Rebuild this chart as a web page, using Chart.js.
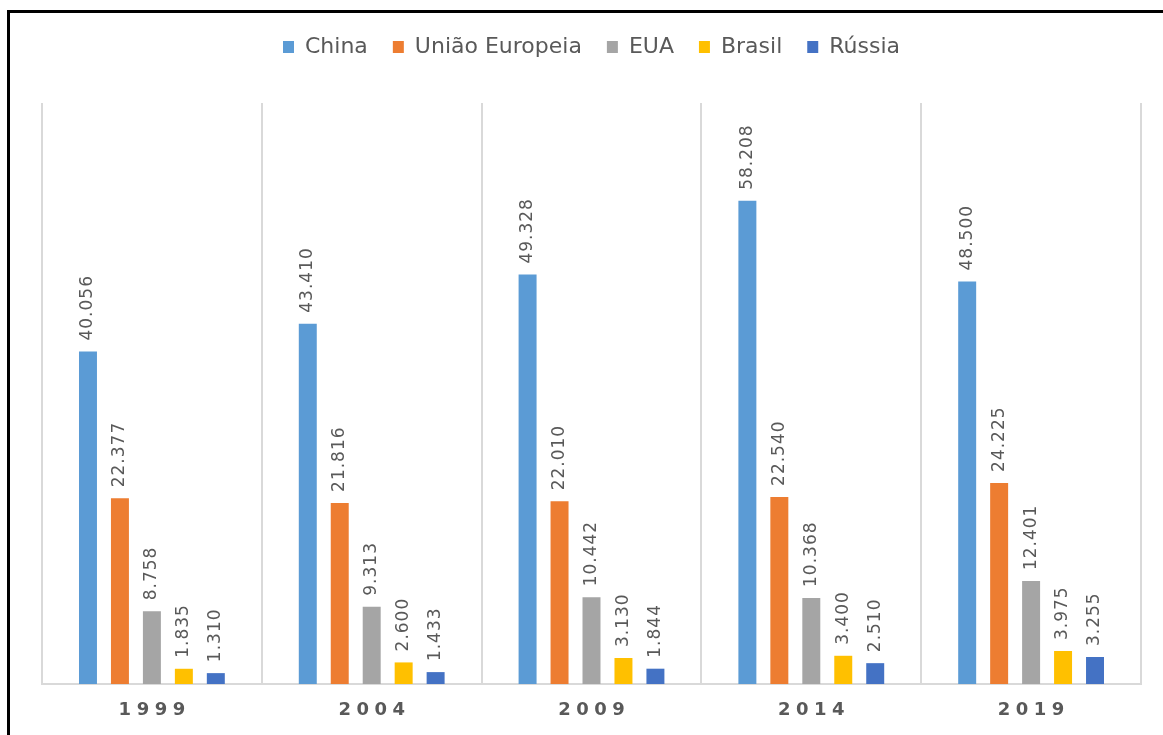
<!DOCTYPE html>
<html>
<head>
<meta charset="utf-8">
<script src="https://cdn.jsdelivr.net/npm/chart.js@4"></script>
<style>
  html, body { margin: 0; padding: 0; background: #fff; }
  #wrap { position: relative; width: 1163px; height: 735px; overflow: hidden; }
  #frame { position: absolute; left: 7px; top: 10px; width: 1200px; height: 800px;
           border-left: 3px solid #000; border-top: 3px solid #000; pointer-events: none; }
</style>
</head>
<body>
<div id="wrap">
  <canvas id="chart"></canvas>
  <div id="frame"></div>
</div>
<script>
const years  = ['1999', '2004', '2009', '2014', '2019'];
const china  = [40.056, 43.410, 49.328, 58.208, 48.500];
const ue     = [22.377, 21.816, 22.010, 22.540, 24.225];
const eua    = [8.758, 9.313, 10.442, 10.368, 12.401];
const brasil = [1.835, 2.600, 3.130, 3.400, 3.975];
const russia = [1.310, 1.433, 1.844, 2.510, 3.255];

const textGrey = '#595959';

// rotated value labels above each bar
const valueLabels = {
  id: 'valueLabels',
  afterDatasetsDraw(chart) {
    const ctx = chart.ctx;
    ctx.save();
    ctx.font = '17px "DejaVu Sans"';
    ctx.letterSpacing = '1px';
    ctx.fillStyle = textGrey;
    ctx.textAlign = 'left';
    ctx.textBaseline = 'middle';
    chart.data.datasets.forEach((ds, i) => {
      chart.getDatasetMeta(i).data.forEach((bar, j) => {
        ctx.save();
        ctx.translate(bar.x, bar.y - 11);
        ctx.rotate(-Math.PI / 2);
        ctx.fillText(ds.data[j].toFixed(3), 0, 0);
        ctx.restore();
      });
    });
    ctx.restore();
  }
};

// spaced-out year labels under the axis
const yearLabels = {
  id: 'yearLabels',
  afterDraw(chart) {
    const ctx = chart.ctx, x = chart.scales.x;
    ctx.save();
    ctx.font = 'bold 18px "DejaVu Sans"';
    ctx.letterSpacing = '5.5px';
    ctx.fillStyle = textGrey;
    ctx.textAlign = 'center';
    ctx.textBaseline = 'middle';
    years.forEach((y, i) => {
      ctx.fillText(y, x.getPixelForTick(i) + 2.75, x.bottom + 26);
    });
    ctx.restore();
  }
};

// push plot area down below the legend
const legendGap = {
  id: 'legendGap',
  beforeInit(chart) {
    const fit = chart.legend.fit;
    chart.legend.fit = function () {
      fit.call(this);
      this.height = 92;
    };
  }
};

new Chart(document.getElementById('chart'), {
  type: 'bar',
  data: {
    labels: years,
    datasets: [
      { label: 'China', data: china, backgroundColor: '#5B9BD5' },
      { label: 'União Europeia', data: ue, backgroundColor: '#ED7D31' },
      { label: 'EUA', data: eua, backgroundColor: '#A5A5A5' },
      { label: 'Brasil', data: brasil, backgroundColor: '#FFC000' },
      { label: 'Rússia', data: russia, backgroundColor: '#4472C4' }
    ]
  },
  options: {
    responsive: true, maintainAspectRatio: false, animation: false,
    categoryPercentage: 0.727,
    barPercentage: 0.5625,
    layout: { padding: { left: 42, right: 22, top: 11, bottom: 51 } },
    plugins: {
      tooltip: { enabled: false },
      legend: {
        position: 'top',
        labels: {
          font: { family: 'DejaVu Sans', size: 22 },
          color: textGrey,
          boxWidth: 11, boxHeight: 12,
          padding: 25
        }
      }
    },
    scales: {
      x: {
        grid: { color: '#d9d9d9', lineWidth: 2, drawTicks: false, offset: true },
        border: { color: '#d9d9d9', width: 2 },
        ticks: { display: false }
      },
      y: { display: false, min: 0, max: 70 }
    }
  },
  plugins: [legendGap, valueLabels, yearLabels]
});
</script>
</body>
</html>
